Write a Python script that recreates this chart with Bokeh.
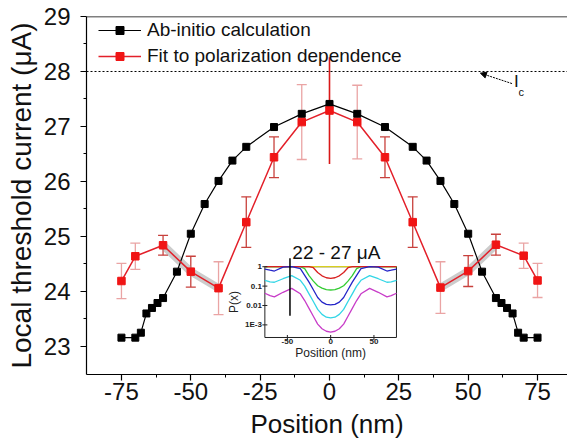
import math
from bokeh.plotting import figure
from bokeh.models import (Range1d, LogScale, FixedTicker, Span, Legend, LegendItem,
                          Whisker, TeeHead, ColumnDataSource, Arrow, NormalHead, Label)
from bokeh.core.properties import value
from bokeh.embed import file_html
from bokeh.resources import INLINE

FONT = "Liberation Sans"

# ---------------- main data ----------------
abinitio_x = [-75, -70, -68, -66, -64, -62, -60, -55, -50, -45, -40, -35, -30, -20, -10, 0,
              10, 20, 30, 35, 40, 45, 50, 55, 60, 62, 64, 66, 68, 70, 75]
abinitio_y = [23.16, 23.16, 23.25, 23.60, 23.70, 23.79, 23.88, 24.36, 25.05, 25.59, 26.01, 26.38,
              26.63, 26.99, 27.23, 27.41, 27.23, 26.99, 26.63, 26.38, 26.01, 25.59, 25.05, 24.36,
              23.88, 23.79, 23.70, 23.60, 23.25, 23.16, 23.16]

fit_x = [-75, -70, -60, -50, -40, -30, -20, -10, 0, 10, 20, 30, 40, 50, 60, 70, 75]
fit_y = [24.19, 24.64, 24.84, 24.36, 24.06, 25.26, 26.44, 27.08, 27.29, 27.08, 26.44, 25.26,
         24.07, 24.37, 24.85, 24.65, 24.20]
fit_err = [0.32, 0.24, 0.18, 0.28, 0.48, 0.46, 0.37, 0.68, 0.97, 0.67, 0.37, 0.46, 0.47,
           0.28, 0.19, 0.23, 0.31]

ic_level = 28.0
x_ticks = [-75, -50, -25, 0, 25, 50, 75]
x_tick_labels = ["-75", "-50", "-25", "0", "25", "50", "75"]
y_ticks = [23, 24, 25, 26, 27, 28, 29]

# ---------------- inset data ----------------
inset_x = [-76, -70, -65, -55, -45, -35, -30, -25, -20, -15, -10, -5, 0,
           5, 10, 15, 20, 25, 30, 35, 45, 55, 65, 70, 76]
p_yellow = [1] * 25
p_red = [1, 1, 1, 1, 1, 1, 1, 1, 0.89, 0.5, 0.34, 0.27, 0.25,
         0.27, 0.34, 0.5, 0.89, 1, 1, 1, 1, 1, 1, 1, 1]
p_green = [1, 1, 1, 1, 1, 1, 0.79, 0.35, 0.18, 0.105, 0.079, 0.066, 0.063,
           0.066, 0.079, 0.105, 0.18, 0.35, 0.79, 1, 1, 1, 1, 1, 1]
p_blue = [0.76, 0.66, 0.6, 0.95, 1, 0.8, 0.36, 0.16, 0.065, 0.026, 0.015, 0.0115, 0.0107,
          0.0115, 0.015, 0.026, 0.065, 0.16, 0.36, 0.8, 1, 0.95, 0.6, 0.66, 0.76]
p_cyan = [0.2, 0.166, 0.158, 0.24, 0.35, 0.2, 0.1, 0.04, 0.016, 0.0063, 0.0035, 0.0025, 0.0023,
          0.0025, 0.0035, 0.0063, 0.016, 0.04, 0.1, 0.2, 0.35, 0.24, 0.158, 0.166, 0.2]
p_magenta = [0.043, 0.032, 0.028, 0.048, 0.076, 0.04, 0.018, 0.0071, 0.0028, 0.0011, 0.00063,
             0.00047, 0.00042, 0.00047, 0.00063, 0.0011, 0.0028, 0.0071, 0.018, 0.04, 0.076,
             0.048, 0.028, 0.032, 0.043]
inset_x_ticks = [-50, 0, 50]
inset_x_labels = ["-50", "0", "50"]
inset_y_ticks = [1, 0.1, 0.01, 0.001]
inset_y_labels = ["1", "0.1", "0.01", "1E-3"]
inset_marker_x = -47
inset_marker_p = (0.003, 2.7)
inset_text = "22 - 27 \u03bcA"

# ---------------- layout constants ----------------
X0, X1 = -87.6, 85.8
Y0, Y1 = 22.49, 29.0
IX0, IX1 = -76.0, 76.0            # inset data x range
IL0, IL1 = -3.65, 0.0             # inset log10 P range
BOX = dict(left=-23.3, right=24.14, bottom=23.163, top=24.45)  # inset box (main coords)

p = figure(width=567, height=447, output_backend="svg", toolbar_location=None,
           x_range=Range1d(X0, X1), y_range=Range1d(Y0, Y1),
           min_border_left=86, min_border_right=0, min_border_top=16, min_border_bottom=73)
p.background_fill_color = "white"
p.border_fill_color = "white"
p.outline_line_color = None
p.xgrid.visible = False
p.ygrid.visible = False

# axes
for ax in (p.xaxis[0], p.yaxis[0]):
    ax.axis_line_color = "black"
    ax.axis_line_width = 1.2
    ax.major_tick_line_color = "black"
    ax.major_tick_line_width = 1.2
    ax.minor_tick_line_color = "black"
    ax.major_tick_out = 6
    ax.major_tick_in = 0
    ax.minor_tick_out = 3
    ax.minor_tick_in = 0
    ax.major_label_text_font = FONT
    ax.major_label_text_font_size = "24px"
    ax.major_label_text_color = "#111111"
    ax.axis_label_text_font = FONT
    ax.axis_label_text_font_style = "normal"
    ax.axis_label_text_color = "#111111"

p.xaxis.ticker = FixedTicker(ticks=x_ticks, minor_ticks=[t + 12.5 for t in x_ticks])
p.xaxis.major_label_overrides = {t: s for t, s in zip(x_ticks, x_tick_labels)}
p.yaxis.ticker = FixedTicker(ticks=y_ticks, minor_ticks=[t + 0.5 for t in y_ticks])
p.xaxis.axis_label = "Position (nm)"
p.yaxis.axis_label = "Local threshold current (\u03bcA)"
p.xaxis.axis_label_text_font_size = "26px"
p.yaxis.axis_label_text_font_size = "28px"
p.xaxis.major_label_standoff = 2
p.xaxis.axis_label_standoff = 6
p.yaxis.major_label_standoff = 10
p.yaxis.axis_label_standoff = 4

# top frame line
p.add_layout(Span(location=Y1, dimension="width", line_color="black", line_width=1.5))
# Ic dotted line
p.add_layout(Span(location=ic_level, dimension="width", line_color="black",
                  line_width=1, line_dash="2 2"))

# grey bands along the fit between 40 and 60 nm
for lo, hi in ((-60, -40), (40, 60)):
    idx = [i for i, x in enumerate(fit_x) if lo <= x <= hi]
    p.line([fit_x[i] for i in idx], [fit_y[i] for i in idx], line_width=8,
           line_color="#9a9a9a", line_alpha=0.5, line_cap="round")

# error bars
dark_x = {-60, -50, -30, -20, 20, 30, 50, 60}
light_x = {-75, -70, -40, -10, 10, 40, 70, 75}
for group, col in ((dark_x, "#c8403c"), (light_x, "#eaa4a4")):
    idx = [i for i, x in enumerate(fit_x) if x in group]
    src = ColumnDataSource(dict(x=[fit_x[i] for i in idx],
                                upper=[fit_y[i] + fit_err[i] for i in idx],
                                lower=[fit_y[i] - fit_err[i] for i in idx]))
    w = Whisker(base="x", upper="upper", lower="lower", source=src, line_color=col,
                line_width=1.3,
                upper_head=TeeHead(size=10, line_color=col, line_width=1.3),
                lower_head=TeeHead(size=10, line_color=col, line_width=1.3))
    p.add_layout(w)
ci = fit_x.index(0)
p.segment(x0=[fit_x[ci]], y0=[fit_y[ci] - fit_err[ci]], x1=[fit_x[ci]],
          y1=[fit_y[ci] + fit_err[ci]], line_color="#d81818", line_width=1.6)

# series
bl = p.line(abinitio_x, abinitio_y, line_color="black", line_width=1.2)
bs = p.scatter(abinitio_x, abinitio_y, marker="square", size=7, color="black")
rl = p.line(fit_x, fit_y, line_color="#e3202a", line_width=1.5)
rs = p.scatter(fit_x, fit_y, marker="square", size=7.5, color="#f01515")

legend = Legend(items=[LegendItem(label="Ab-initio calculation", renderers=[bl, bs]),
                       LegendItem(label="Fit to polarization dependence", renderers=[rl, rs])],
                location=(12, 307), padding=0, margin=0, spacing=4,
                glyph_width=43, glyph_height=20, label_height=20, label_standoff=6,
                label_text_font=FONT, label_text_font_size="19px",
                label_text_color="#111111",
                border_line_color=None, background_fill_alpha=0)
p.add_layout(legend)

# Ic annotation
p.add_layout(Arrow(x_start=65.8, y_start=27.78, x_end=54.4, y_end=27.97,
                   line_dash="2 1", line_width=1, line_color="black",
                   end=NormalHead(size=6, fill_color="black", line_color="black")))
p.add_layout(Label(x=67.4, y=27.82, text="I", text_font=FONT, text_font_size="17px",
                   text_align="center", text_baseline="middle", text_color="#111111"))
p.add_layout(Label(x=69.1, y=27.63, text="c", text_font=FONT, text_font_size="11px",
                   text_align="center", text_baseline="middle", text_color="#111111"))

# ---------------- inset via extra ranges ----------------
kx = (IX1 - IX0) / (BOX["right"] - BOX["left"])
ix_start = IX0 + (X0 - BOX["left"]) * kx
ix_end = IX0 + (X1 - BOX["left"]) * kx
ky = (IL1 - IL0) / (BOX["top"] - BOX["bottom"])
il_start = IL0 + (Y0 - BOX["bottom"]) * ky
il_end = IL0 + (Y1 - BOX["bottom"]) * ky
p.extra_x_ranges = {"ix": Range1d(ix_start, ix_end)}
p.extra_y_ranges = {"iy": Range1d(10 ** il_start, 10 ** il_end)}
p.extra_y_scales = {"iy": LogScale()}
IR = dict(x_range_name="ix", y_range_name="iy")
pb, pt = 10 ** IL0, 10 ** IL1

p.quad(left=[IX0], right=[IX1], bottom=[pb], top=[pt], fill_color="white",
       line_color="#222222", line_width=1, **IR)
for ys, col in ((p_yellow, "#d8cf20"), (p_green, "#33cc33"), (p_red, "#d82020"),
                (p_blue, "#2424c8"), (p_cyan, "#33d6e6"), (p_magenta, "#c83cc8")):
    p.line(inset_x, ys, line_color=col, line_width=1.3, **IR)

# inset ticks
p.scatter(inset_x_ticks, [pb] * len(inset_x_ticks), marker="dash", angle=math.pi / 2,
          size=5, line_color="#222222", **IR)
p.scatter([IX0] * len(inset_y_ticks), inset_y_ticks, marker="dash", size=5,
          line_color="#222222", **IR)
p.text(inset_x_ticks, [pb] * len(inset_x_ticks), text=inset_x_labels, y_offset=2,
       text_align="center", text_baseline="top", text_font=value(FONT),
       text_font_size="8px", text_font_style="bold", text_color="#222222", **IR)
p.text([IX0] * len(inset_y_ticks), inset_y_ticks, text=inset_y_labels, x_offset=-3,
       text_align="right", text_baseline="middle", text_font=value(FONT),
       text_font_size="8px", text_font_style="bold", text_color="#222222", **IR)
p.add_layout(Label(x=0, y=pb, text="Position (nm)", y_offset=-16, text_align="center",
                   text_baseline="middle", text_font=FONT, text_font_size="12px",
                   text_color="#222222", **IR))
p.add_layout(Label(x=IX0, y=10 ** ((IL0 + IL1) / 2), text="P(x)", x_offset=-31,
                   angle=math.pi / 2, text_align="center", text_baseline="middle",
                   text_font=FONT, text_font_size="12px", text_color="#222222", **IR))
p.segment(x0=[inset_marker_x], y0=[inset_marker_p[0]], x1=[inset_marker_x],
          y1=[inset_marker_p[1]], line_color="black", line_width=1.5, **IR)
p.add_layout(Label(x=-13.4, y=24.70, text=inset_text, text_align="left",
                   text_baseline="middle", text_font=FONT, text_font_size="19px",
                   text_color="#111111"))

open("out.html", "w").write(file_html(p, INLINE))
